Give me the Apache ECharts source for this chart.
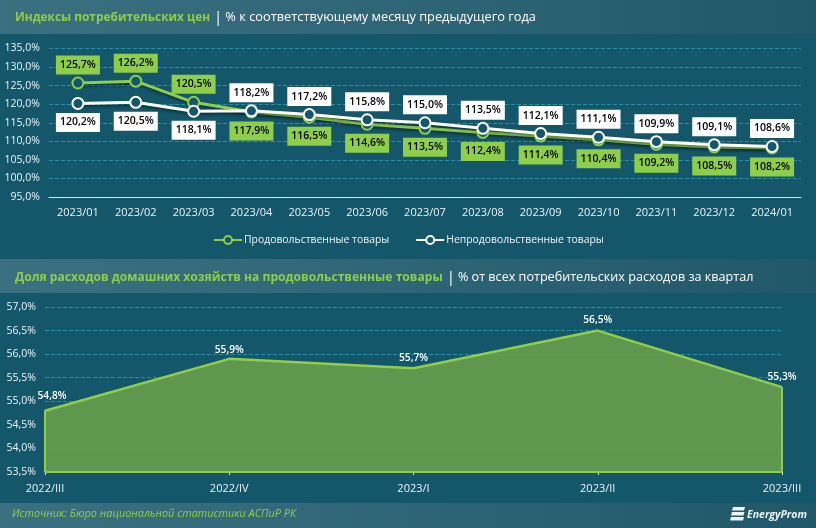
<!DOCTYPE html>
<html><head><meta charset="utf-8">
<script src="https://cdn.jsdelivr.net/npm/echarts@6/dist/echarts.min.js"></script>
<style>html,body{margin:0;padding:0;background:#14566a}#c{width:816px;height:528px}</style>
</head><body><div id="c"></div>
<script>
const months=['2023/01','2023/02','2023/03','2023/04','2023/05','2023/06','2023/07','2023/08','2023/09','2023/10','2023/11','2023/12','2024/01'];
const foodName='Продовольственные товары';
const nonFoodName='Непродовольственные товары';
const food=[125.7,126.2,120.5,117.9,116.5,114.6,113.5,112.4,111.4,110.4,109.2,108.5,108.2];
const nonFood=[120.2,120.5,118.1,118.2,117.2,115.8,115.0,113.5,112.1,111.1,109.9,109.1,108.6];
const quarters=['2022/III','2022/IV','2023/I','2023/II','2023/III'];
const share=[54.8,55.9,55.7,56.5,55.3];
const FONT='"Open Sans","Noto Sans",sans-serif';
const GREEN='#8fce4a',BG='#14566a',GRID='#2b8ea8',TXT='#eef4f5';
const pct=v=>v.toFixed(1).replace('.',',')+'%';
const bandFill={type:'linear',x:0,y:0,x2:1,y2:0,colorStops:[{offset:0,color:'#3b7080'},{offset:.6,color:'#2c6374'},{offset:1,color:'#205869'}]};
const band=(y,h)=>({type:'rect',z:0,shape:{x:0,y,width:816,height:h},style:{fill:bandFill}});
const head=(y,a,b,sa,sb)=>({type:'text',z:5,left:15,top:y,style:{rich:{a:{fill:GREEN,font:'bold '+sa+'px '+FONT},s:{fill:'#fff',font:'15px '+FONT,padding:[0,3,0,4]},b:{fill:'#fff',font:sb+'px '+FONT}},text:'{a|'+a+'}{s||}{b|'+b+'}'}});
const lineLabel=(bg,fg)=>({show:true,backgroundColor:bg,color:fg,fontFamily:FONT,fontSize:10.5,fontWeight:600,width:44,height:19,lineHeight:19,align:'center',borderWidth:0,textBorderWidth:0,formatter:p=>pct(p.value)});
const pos=(arr,topIdx)=>arr.map((v,i)=>({value:v,label:topIdx(i)?{position:'top',distance:2}:{position:'bottom',distance:3}}));
const shareLabelOffset=i=>i===0?[7,-4]:i===1?[0,2]:[0,0];
const chart=echarts.init(document.getElementById('c'),null,{renderer:'canvas'});
const axisLbl={color:TXT,fontFamily:FONT,fontSize:10.5};
const split={show:true,lineStyle:{color:GRID,type:'dashed',width:1}};
chart.setOption({
 animation:false,backgroundColor:BG,
 graphic:[band(0,34),band(259,34),band(503,25),
  head(10,'Индексы потребительских цен','% к соответствующему месяцу предыдущего года',11.9,12.8),
  head(270,'Доля расходов домашних хозяйств на продовольственные товары','% от всех потребительских расходов за квартал',12.1,12.6),
  {type:'text',z:5,left:12,top:508,style:{text:'Источник: Бюро национальной статистики АСПиР РК',fill:GREEN,font:'italic 10.9px '+FONT}},
  {type:'text',z:5,left:747,top:510,style:{text:'EnergyProm',fill:'#eef4f5',font:'italic bold 10.5px '+FONT}},
  ...[0,1,2].map(i=>({type:'polygon',z:5,shape:{points:[[733-i,507+i*5],[745-i*0.5,507+i*5],[744-i*0.5,510.5+i*5],[732-i,510.5+i*5]]},style:{fill:'#eef4f5'}}))
 ],
 legend:{left:208,top:230,itemWidth:28,itemHeight:10,itemGap:26,textStyle:{color:TXT,fontFamily:FONT,fontSize:10.4,padding:[0,0,0,-3]},data:[foodName,nonFoodName]},
 grid:[{left:49,right:15,top:48.5,height:148.5},{left:45,right:34,top:307,height:165}],
 xAxis:[
  {type:'category',gridIndex:0,data:months,axisTick:{show:false},axisLine:{lineStyle:{color:'#d8e4e8'}},axisLabel:{color:TXT,fontFamily:FONT,fontSize:11,margin:10}},
  {type:'category',gridIndex:1,data:quarters,boundaryGap:false,axisTick:{show:true,length:3,lineStyle:{color:'#d8e4e8'}},axisLine:{lineStyle:{color:'#d8e4e8'}},axisLabel:{color:TXT,fontFamily:FONT,fontSize:11,margin:11}}
 ],
 yAxis:[
  {type:'value',gridIndex:0,min:95,max:135,interval:5,axisLine:{show:false},axisTick:{show:false},splitLine:split,axisLabel:{...axisLbl,margin:9,formatter:pct}},
  {type:'value',gridIndex:1,min:53.5,max:57,interval:.5,axisLine:{show:false},axisTick:{show:false},splitLine:split,axisLabel:{...axisLbl,margin:9,formatter:pct}}
 ],
 series:[
  {name:foodName,type:'line',xAxisIndex:0,yAxisIndex:0,data:pos(food,i=>i<3),symbol:'circle',symbolSize:11,
   itemStyle:{color:BG,borderColor:GREEN,borderWidth:2},lineStyle:{color:GREEN,width:3,shadowColor:'rgba(0,0,0,.45)',shadowBlur:3,shadowOffsetX:1,shadowOffsetY:2},
   label:lineLabel(GREEN,'#000')},
  {name:nonFoodName,type:'line',xAxisIndex:0,yAxisIndex:0,data:pos(nonFood,i=>i>2),symbol:'circle',symbolSize:11,
   itemStyle:{color:BG,borderColor:'#fff',borderWidth:2},lineStyle:{color:'#fff',width:3,shadowColor:'rgba(0,0,0,.45)',shadowBlur:3,shadowOffsetX:1,shadowOffsetY:2},
   label:lineLabel('#fff','#000')},
  {type:'line',xAxisIndex:1,yAxisIndex:1,data:share.map((v,i)=>({value:v,label:{offset:shareLabelOffset(i)}})),symbol:'circle',symbolSize:1,showSymbol:true,
   itemStyle:{color:GREEN},
   lineStyle:{color:GREEN,width:2.5},areaStyle:{color:'#679f4d',opacity:.9},
   label:{show:true,position:'top',distance:5,color:'#fff',fontFamily:FONT,fontSize:10.2,fontWeight:600,textBorderWidth:0,formatter:p=>pct(p.value)},
   markLine:{silent:true,symbol:'none',label:{show:false},lineStyle:{color:GREEN,width:2,type:'solid'},data:[
    [{coord:[quarters[0],53.5]},{coord:[quarters[0],share[0]]}],
    [{coord:[quarters[4],53.5]},{coord:[quarters[4],share[4]]}],
    [{coord:[quarters[0],53.5]},{coord:[quarters[4],53.5]}]
   ]}}
 ]
});
</script></body></html>
